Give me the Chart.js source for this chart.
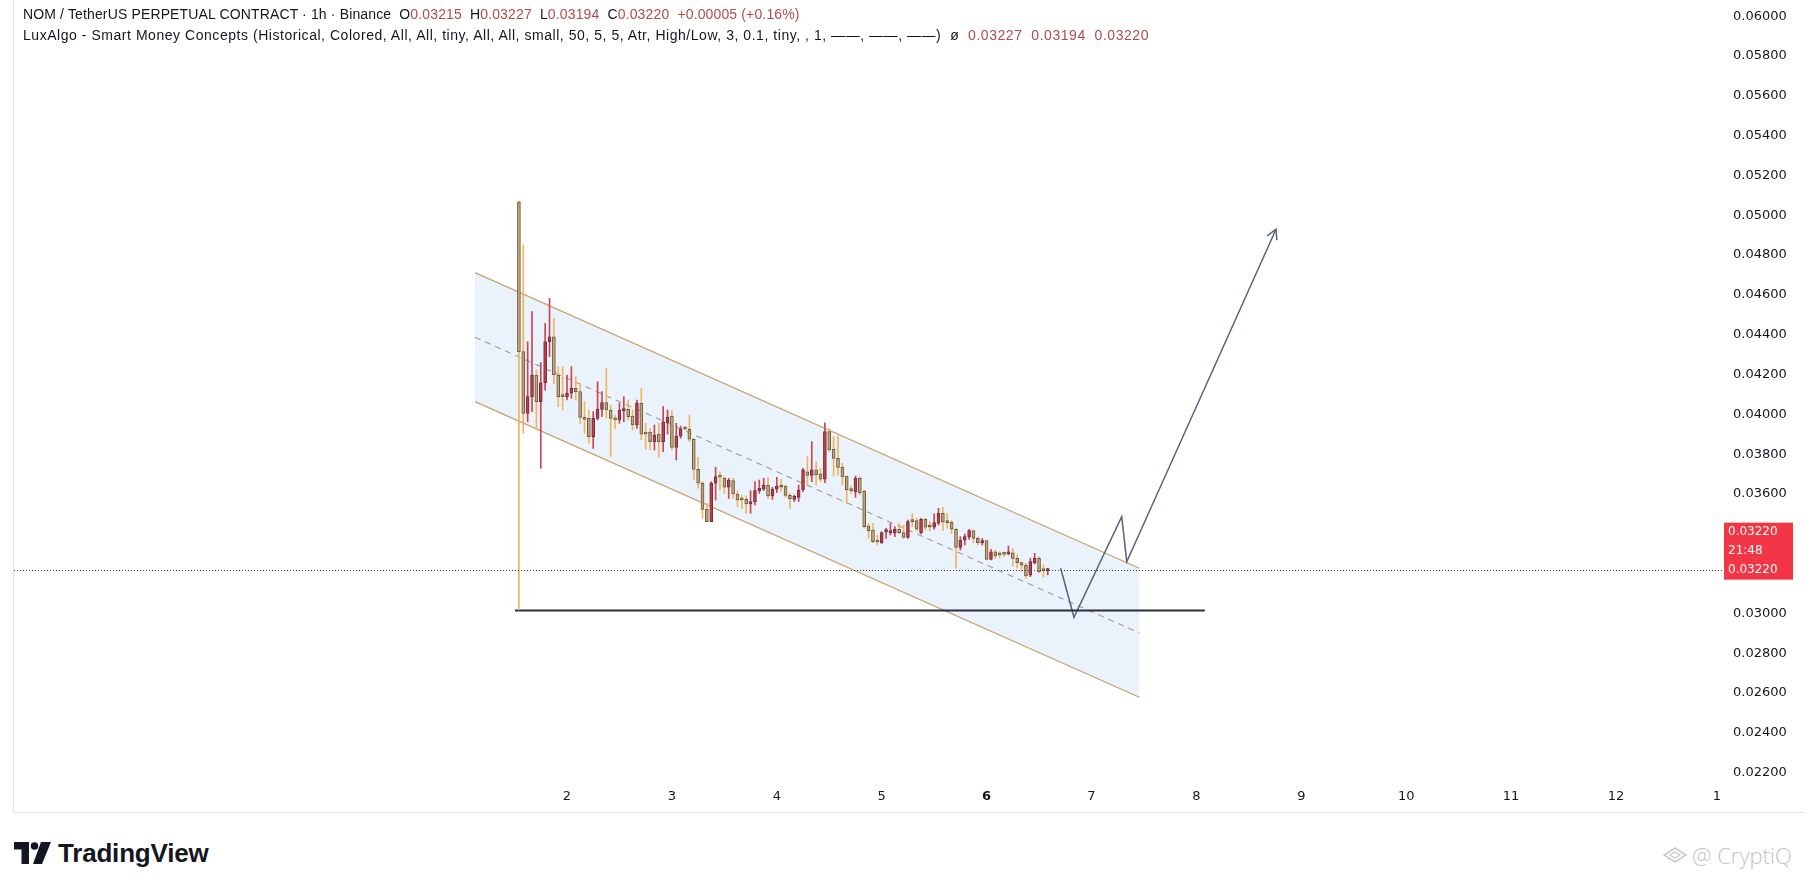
<!DOCTYPE html>
<html>
<head>
<meta charset="utf-8">
<script src="https://cdn.jsdelivr.net/npm/chart.js@4.4.1/dist/chart.umd.min.js"></script>
<style>
  html, body { margin: 0; padding: 0; background: #fff; width: 1814px; height: 888px; overflow: hidden; }
  body { font-family: "Liberation Sans", Arial, sans-serif; }
  #frame { position: absolute; left: 13px; top: 0; width: 1790px; height: 812px; border-left: 1px solid #e0e3eb; border-bottom: 1px solid #e0e3eb; }
  #wrap { position: absolute; left: 14px; top: 0; width: 1789px; height: 812px; }
  #legend { position: absolute; left: 23px; top: 4px; font-size: 14px; color: #131722; line-height: 21px; white-space: pre; }
  #legend .l1 { letter-spacing: 0.14px; }
  #legend .l2 { letter-spacing: 0.54px; }
  #legend .v { color: #b04c4c; }
  #tv { position: absolute; left: 14px; top: 838px; height: 30px; display: flex; align-items: center; }
  #tv span { font-weight: bold; font-size: 26px; color: #131722; margin-left: 7px; letter-spacing: -0.2px; }
  #wm { position: absolute; left: 1662px; top: 840px; display: flex; align-items: center; color: #c4c4c4; font-family: "Open Sans", sans-serif; font-size: 22px; font-weight: 300; }
</style>
</head>
<body>
<div id="frame"></div>
<div id="wrap"><canvas id="chart"></canvas></div>
<div id="legend"><div class="l1">NOM / TetherUS PERPETUAL CONTRACT · 1h · Binance  O<span class="v">0.03215</span>  H<span class="v">0.03227</span>  L<span class="v">0.03194</span>  C<span class="v">0.03220</span>  <span class="v">+0.00005 (+0.16%)</span></div><div class="l2">LuxAlgo - Smart Money Concepts (Historical, Colored, All, All, tiny, All, All, small, 50, 5, 5, Atr, High/Low, 3, 0.1, tiny, , 1, ——, ——, ——)  ø  <span class="v">0.03227</span>  <span class="v">0.03194</span>  <span class="v">0.03220</span></div></div>
<div id="tv">
  <svg width="37" height="22" viewBox="0 0 37 22"><path d="M0 0h15v22h-7.5v-14.5H0z" fill="#131722"/><circle cx="20.5" cy="4" r="3.8" fill="#131722"/><path d="M27 0h10l-9 22h-9z" fill="#131722"/></svg>
  <span>TradingView</span>
</div>
<div id="wm">
  <svg width="26" height="18" viewBox="0 0 26 18"><path d="M13 2L24 9L13 16L2 9Z" fill="none" stroke="#c8c8c8" stroke-width="1.5"/><path d="M13 6L18 9L13 12L8 9Z" fill="none" stroke="#c8c8c8" stroke-width="1.2"/></svg>
  <span style="margin-left:4px">@ CryptiQ</span>
</div>
<script>
// hourly candles, first bar = day 1 13:00
const firstBarDay = 1 + 13 / 24;
const opens = [
  0.05068, 0.04315, 0.04005, 0.04089, 0.04198, 0.04064, 0.04159, 0.04365, 0.04390, 0.04198,
  0.04094, 0.04089, 0.04106, 0.04131, 0.04114, 0.03985, 0.03980, 0.03888, 0.03980, 0.04025,
  0.04059, 0.04022, 0.03978, 0.03972, 0.04019, 0.04025, 0.03992, 0.03947, 0.04056, 0.03911,
  0.03911, 0.03863, 0.03901, 0.03863, 0.03958, 0.03992, 0.03834, 0.03891, 0.03932, 0.03925,
  0.03875, 0.03724, 0.03654, 0.03523, 0.03461, 0.03654, 0.03687, 0.03679, 0.03634, 0.03667,
  0.03600, 0.03573, 0.03573, 0.03550, 0.03562, 0.03617, 0.03624, 0.03645, 0.03590, 0.03624,
  0.03640, 0.03640, 0.03593, 0.03573, 0.03583, 0.03620, 0.03712, 0.03694, 0.03721, 0.03701,
  0.03674, 0.03913, 0.03824, 0.03779, 0.03734, 0.03690, 0.03620, 0.03612, 0.03679, 0.03615,
  0.03439, 0.03419, 0.03364, 0.03356, 0.03411, 0.03406, 0.03403, 0.03423, 0.03406, 0.03382,
  0.03466, 0.03466, 0.03406, 0.03473, 0.03439, 0.03433, 0.03453, 0.03503, 0.03466, 0.03458,
  0.03423, 0.03332, 0.03369, 0.03386, 0.03416, 0.03377, 0.03356, 0.03366, 0.03272, 0.03310,
  0.03302, 0.03302, 0.03299, 0.03305, 0.03277, 0.03255, 0.03242, 0.03192, 0.03255, 0.03277,
  0.03218, 0.03215
];
const highs = [
  0.05072, 0.04851, 0.04365, 0.04516, 0.04223, 0.04260, 0.04457, 0.04583, 0.04482, 0.04240,
  0.04240, 0.04198, 0.04240, 0.04189, 0.04156, 0.04064, 0.04022, 0.04014, 0.04164, 0.04114,
  0.04231, 0.04047, 0.03997, 0.04056, 0.04089, 0.04072, 0.04022, 0.04072, 0.04131, 0.03955,
  0.03930, 0.03947, 0.03955, 0.04039, 0.04022, 0.04019, 0.03955, 0.03942, 0.03938, 0.03997,
  0.03880, 0.03784, 0.03662, 0.03553, 0.03662, 0.03734, 0.03712, 0.03687, 0.03679, 0.03679,
  0.03617, 0.03595, 0.03590, 0.03617, 0.03662, 0.03670, 0.03679, 0.03684, 0.03634, 0.03684,
  0.03674, 0.03645, 0.03603, 0.03595, 0.03645, 0.03729, 0.03788, 0.03863, 0.03762, 0.03729,
  0.03958, 0.03930, 0.03888, 0.03888, 0.03754, 0.03690, 0.03640, 0.03690, 0.03687, 0.03620,
  0.03453, 0.03453, 0.03394, 0.03411, 0.03428, 0.03453, 0.03436, 0.03453, 0.03444, 0.03469,
  0.03500, 0.03478, 0.03478, 0.03478, 0.03461, 0.03500, 0.03528, 0.03533, 0.03503, 0.03466,
  0.03428, 0.03386, 0.03399, 0.03423, 0.03419, 0.03386, 0.03377, 0.03369, 0.03322, 0.03319,
  0.03310, 0.03310, 0.03339, 0.03327, 0.03294, 0.03260, 0.03252, 0.03277, 0.03302, 0.03285,
  0.03244, 0.03227
];
const lows = [
  0.03018, 0.03905, 0.03963, 0.04014, 0.03922, 0.03729, 0.04122, 0.04290, 0.04156, 0.04039,
  0.04022, 0.04072, 0.04081, 0.04072, 0.03955, 0.03905, 0.03855, 0.03829, 0.03972, 0.03989,
  0.03980, 0.03788, 0.03930, 0.03955, 0.03963, 0.03972, 0.03922, 0.03930, 0.03871, 0.03824,
  0.03821, 0.03821, 0.03784, 0.03813, 0.03901, 0.03821, 0.03771, 0.03880, 0.03922, 0.03863,
  0.03670, 0.03629, 0.03478, 0.03461, 0.03461, 0.03570, 0.03620, 0.03603, 0.03578, 0.03578,
  0.03537, 0.03528, 0.03503, 0.03503, 0.03545, 0.03603, 0.03617, 0.03578, 0.03573, 0.03607,
  0.03612, 0.03583, 0.03528, 0.03562, 0.03562, 0.03612, 0.03645, 0.03662, 0.03645, 0.03662,
  0.03657, 0.03813, 0.03690, 0.03695, 0.03645, 0.03553, 0.03603, 0.03583, 0.03595, 0.03428,
  0.03377, 0.03356, 0.03344, 0.03352, 0.03377, 0.03394, 0.03386, 0.03399, 0.03377, 0.03377,
  0.03436, 0.03416, 0.03399, 0.03419, 0.03416, 0.03423, 0.03444, 0.03416, 0.03428, 0.03402,
  0.03227, 0.03319, 0.03344, 0.03372, 0.03356, 0.03344, 0.03344, 0.03269, 0.03269, 0.03277,
  0.03277, 0.03285, 0.03294, 0.03238, 0.03227, 0.03210, 0.03176, 0.03185, 0.03248, 0.03205,
  0.03182, 0.03194
];
const closes = [
  0.04315, 0.04005, 0.04089, 0.04198, 0.04064, 0.04159, 0.04365, 0.04390, 0.04198, 0.04089,
  0.04089, 0.04106, 0.04131, 0.04114, 0.03985, 0.03975, 0.03888, 0.03980, 0.04025, 0.04059,
  0.04022, 0.03980, 0.03972, 0.04022, 0.04025, 0.03989, 0.03947, 0.04056, 0.03901, 0.03901,
  0.03863, 0.03895, 0.03863, 0.03962, 0.03985, 0.03834, 0.03891, 0.03928, 0.03928, 0.03875,
  0.03724, 0.03654, 0.03523, 0.03461, 0.03654, 0.03687, 0.03684, 0.03634, 0.03670, 0.03600,
  0.03570, 0.03570, 0.03550, 0.03562, 0.03617, 0.03629, 0.03645, 0.03590, 0.03624, 0.03640,
  0.03634, 0.03593, 0.03577, 0.03588, 0.03620, 0.03721, 0.03694, 0.03721, 0.03697, 0.03674,
  0.03913, 0.03821, 0.03779, 0.03734, 0.03687, 0.03620, 0.03617, 0.03679, 0.03607, 0.03436,
  0.03416, 0.03361, 0.03359, 0.03406, 0.03416, 0.03411, 0.03423, 0.03406, 0.03382, 0.03461,
  0.03461, 0.03423, 0.03473, 0.03433, 0.03433, 0.03456, 0.03503, 0.03461, 0.03456, 0.03423,
  0.03332, 0.03369, 0.03386, 0.03416, 0.03377, 0.03356, 0.03366, 0.03272, 0.03310, 0.03289,
  0.03294, 0.03297, 0.03305, 0.03277, 0.03255, 0.03242, 0.03188, 0.03260, 0.03277, 0.03210,
  0.03215, 0.03220
];

// axes
const dayTicks = [2, 3, 4, 5, 6, 7, 8, 9, 10, 11, 12, 13];
const priceTicks = [0.022, 0.024, 0.026, 0.028, 0.030, 0.036, 0.038, 0.040, 0.042, 0.044,
  0.046, 0.048, 0.050, 0.052, 0.054, 0.056, 0.058, 0.060];
const timerText = '21:48';

// drawings: descending channel, support line, projected path
const channelX = [1.123, 7.456];
const channelUpper = [0.04712, 0.03227];
const channelMid = [0.04387, 0.02902];
const channelLower = [0.04064, 0.02579];
const supportX = [1.504, 8.08];
const supportY = [0.03015, 0.03015];
const pathX = [6.706, 6.833, 7.288, 7.336, 8.759];
const pathY = [0.03227, 0.02981, 0.03486, 0.03260, 0.04930];

const upBody = '#c33a4b', upBorder = '#6e3236', upWick = '#c84656';
const dnBody = '#caa46e', dnBorder = '#6b5843', dnWick = '#efb460';

const barX = opens.map((_, i) => firstBarDay + i / 24);
const up = opens.map((o, i) => closes[i] >= o);

const pts = (xs, ys) => xs.map((x, i) => ({ x: x, y: ys[i] }));

const overlay = {
    id: 'overlay',
    afterDatasetsDraw(chart) {
        const { ctx, chartArea, scales } = chart;
        const last = closes[closes.length - 1];
        const y = Math.round(scales.y.getPixelForValue(last)) + 0.5;
        ctx.save();
        ctx.strokeStyle = '#3c404c';
        ctx.lineWidth = 1;
        ctx.setLineDash([1, 2]);
        ctx.beginPath();
        ctx.moveTo(chartArea.left, y);
        ctx.lineTo(chartArea.right, y);
        ctx.stroke();
        ctx.setLineDash([]);

        // arrow head on the projected path
        const p = chart.getDatasetMeta(6).data;
        const a = p[p.length - 2], b = p[p.length - 1];
        const ang = Math.atan2(b.y - a.y, b.x - a.x);
        ctx.strokeStyle = '#57627c';
        ctx.lineWidth = 1.5;
        ctx.beginPath();
        ctx.moveTo(b.x - 11 * Math.cos(ang - 0.5), b.y - 11 * Math.sin(ang - 0.5));
        ctx.lineTo(b.x, b.y);
        ctx.lineTo(b.x - 11 * Math.cos(ang + 0.5), b.y - 11 * Math.sin(ang + 0.5));
        ctx.stroke();
        ctx.restore();
    },
    afterDraw(chart) {
        const { ctx, chartArea, scales } = chart;
        // price scale corner hides what spills past the plot (cut "13", cut last price label)
        ctx.save();
        ctx.fillStyle = '#ffffff';
        ctx.fillRect(chartArea.right, chartArea.bottom - 3, chart.width - chartArea.right, chart.height - chartArea.bottom + 2);

        const last = closes[closes.length - 1];
        const y = scales.y.getPixelForValue(last);
        const x0 = chartArea.right + 2;
        ctx.fillStyle = '#f23645';
        ctx.fillRect(x0, y - 47, 69, 57);
        ctx.fillStyle = '#ffffff';
        ctx.font = '12px "DejaVu Sans"';
        ctx.textBaseline = 'middle';
        ctx.fillText(last.toFixed(5), x0 + 4, y - 38);
        ctx.fillText(timerText, x0 + 4, y - 19);
        ctx.fillText(last.toFixed(5), x0 + 4, y);
        ctx.restore();
    }
};

new Chart(document.getElementById('chart'), {
    type: 'bar',
    data: {
        datasets: [
            {
                label: 'wicks',
                data: barX.map((x, i) => ({ x: x, y: [lows[i], highs[i]] })),
                backgroundColor: up.map(u => u ? upWick : dnWick),
                barThickness: 1,
                grouped: false,
                order: 1
            },
            {
                label: 'bodies',
                data: barX.map((x, i) => ({ x: x, y: [opens[i], closes[i]] })),
                backgroundColor: up.map(u => u ? upBody : dnBody),
                borderColor: up.map(u => u ? upBorder : dnBorder),
                borderWidth: 1,
                borderSkipped: false,
                barThickness: 3,
                minBarLength: 2,
                grouped: false,
                order: 0
            },
            {
                type: 'line', label: 'upper',
                data: pts(channelX, channelUpper),
                borderColor: '#c9a36e', borderWidth: 1.3, pointRadius: 0,
                fill: 4, backgroundColor: '#eaf2fb', order: 3
            },
            {
                type: 'line', label: 'mid',
                data: pts(channelX, channelMid),
                borderColor: '#a39a92', borderWidth: 1.1, borderDash: [6, 5], pointRadius: 0,
                fill: false, order: 3
            },
            {
                type: 'line', label: 'lower',
                data: pts(channelX, channelLower),
                borderColor: '#c9a36e', borderWidth: 1.3, pointRadius: 0,
                fill: false, order: 3
            },
            {
                type: 'line', label: 'support',
                data: pts(supportX, supportY),
                borderColor: '#2a2e39', borderWidth: 1.8, pointRadius: 0,
                fill: false, order: 2
            },
            {
                type: 'line', label: 'path',
                data: pts(pathX, pathY),
                borderColor: '#57627c', borderWidth: 1.5, pointRadius: 0,
                fill: false, order: 2
            }
        ]
    },
    options: {
        responsive: true,
        maintainAspectRatio: false,
        animation: false,
        events: [],
        layout: { padding: 0 },
        plugins: {
            legend: { display: false },
            tooltip: { enabled: false },
            filler: { drawTime: 'beforeDatasetsDraw' }
        },
        scales: {
            x: {
                type: 'linear',
                min: -3.2717,
                max: 13.0105,
                offset: false,
                grid: { display: false, drawTicks: false },
                border: { display: false },
                ticks: {
                    autoSkip: false,
                    maxRotation: 0,
                    padding: 9,
                    color: '#131722',
                    font: ctx => ({ family: 'DejaVu Sans', size: 13, weight: ctx.tick && ctx.tick.value === 6 ? 'bold' : 'normal' })
                },
                afterBuildTicks: s => { s.ticks = dayTicks.map(v => ({ value: v })); },
                afterFit: s => { s.height = 32; s.paddingLeft = 0; s.paddingRight = 0; }
            },
            y: {
                type: 'linear',
                position: 'right',
                min: 0.021635,
                max: 0.060814,
                grid: { display: false, drawTicks: false },
                border: { display: false },
                ticks: {
                    padding: 11,
                    color: '#131722',
                    font: { family: 'DejaVu Sans', size: 13 },
                    callback: v => Number(v).toFixed(5)
                },
                afterBuildTicks: s => { s.ticks = priceTicks.map(v => ({ value: v })); },
                afterFit: s => { s.width = 81; s.paddingTop = 0; s.paddingBottom = 0; }
            }
        }
    },
    plugins: [overlay]
});
</script>
</body>
</html>
